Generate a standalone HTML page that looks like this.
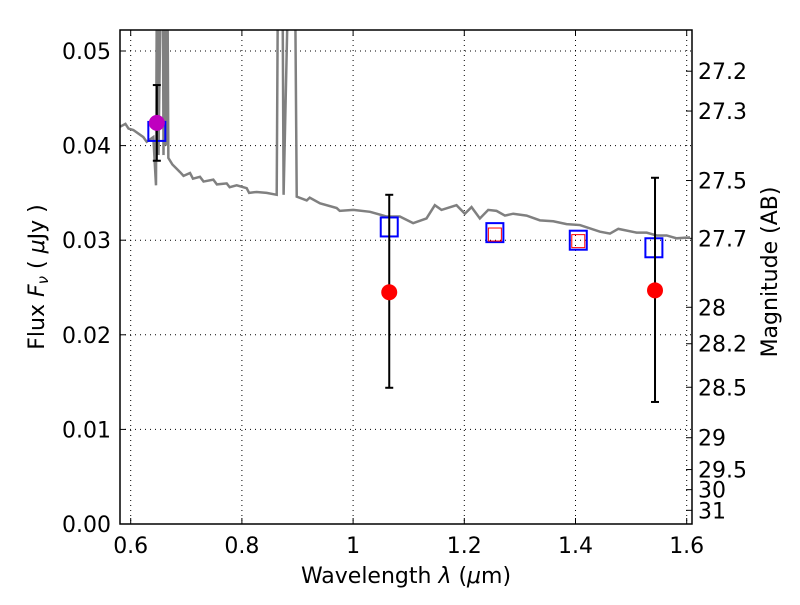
<!DOCTYPE html>
<html><head><meta charset="utf-8"><style>
body{margin:0;background:#fff;}
svg text{font-family:"DejaVu Sans","Liberation Sans",sans-serif;fill:#000;}
</style></head><body>
<svg id="chart" width="800" height="600" xmlns="http://www.w3.org/2000/svg"></svg>
<script>
const specWave=[0.581,0.5905,0.596,0.6047,0.6227,0.6288,0.6407,0.6455,0.648,0.650,0.657,0.659,0.661,0.663,0.665,0.6677,0.675,0.6887,0.695,0.7067,0.712,0.7246,0.731,0.7486,0.755,0.7727,0.778,0.7906,0.8086,0.813,0.8266,0.8446,0.8626,0.866,0.872,0.875,0.888,0.894,0.8986,0.9166,0.922,0.9405,0.9705,0.976,1.0004,1.0304,1.0604,1.084,1.108,1.132,1.147,1.159,1.186,1.201,1.213,1.228,1.243,1.258,1.273,1.288,1.312,1.336,1.360,1.384,1.408,1.444,1.462,1.477,1.510,1.528,1.546,1.564,1.582,1.606];
const specFlux=[0.0420,0.0423,0.0418,0.04165,0.0409,0.0404,0.0409,0.0358,0.07,0.039,0.07,0.039,0.07,0.040,0.07,0.0387,0.0380,0.0372,0.0368,0.0371,0.0365,0.0367,0.0362,0.0364,0.0359,0.0360,0.0356,0.0358,0.0355,0.0350,0.0351,0.0350,0.0348,0.07,0.07,0.0348,0.07,0.07,0.0346,0.0342,0.0345,0.0339,0.0334,0.0331,0.0332,0.0330,0.0325,0.0325,0.0318,0.0323,0.0337,0.0332,0.0337,0.0328,0.0335,0.0323,0.0332,0.0331,0.0326,0.0328,0.0326,0.0321,0.0320,0.0317,0.0316,0.0309,0.0307,0.0312,0.0308,0.0308,0.0305,0.0305,0.0302,0.0303];
const obsWave=[0.647,1.065,1.543];
const obsFlux=[0.0424,0.0245,0.0247];
const obsLo=[0.0384,0.0144,0.0129];
const obsHi=[0.0464,0.0348,0.0366];
const obsColor=['#bf00bf','red','red'];
const modWave=[0.647,1.065,1.255,1.405,1.541];
const modFlux=[0.0415,0.0314,0.0308,0.0300,0.0292];
const filtWave=[1.255,1.405];
const filtFlux=[0.0306,0.0299];
const xTicks=[0.6,0.8,1.0,1.2,1.4,1.6];
const xTickLabels=['0.6','0.8','1','1.2','1.4','1.6'];
const yTicks=[0,0.01,0.02,0.03,0.04,0.05];
const yTickLabels=['0.00','0.01','0.02','0.03','0.04','0.05'];
const magTicks=[27.2,27.3,27.5,27.7,28,28.2,28.5,29,29.5,30,31];

const L=120,R=692,T=30,B=524;
const X=w=>130.7+(w-0.6)*556;
const Y=f=>524-f*9460;
const svg=document.getElementById('chart');
const NS='http://www.w3.org/2000/svg';
function mk(tag,attrs,parent){const e=document.createElementNS(NS,tag);for(const k in attrs)e.setAttribute(k,attrs[k]);(parent||svg).appendChild(e);return e;}

const defs=mk('defs',{});
const cp=mk('clipPath',{id:'clip'},defs);
mk('rect',{x:L,y:T,width:R-L,height:B-T},cp);

xTicks.forEach((t,i)=>{
  const g=mk('line',{x1:X(t),x2:X(t),y1:T,y2:B,stroke:'#000','stroke-width':1,'stroke-dasharray':'1,4'});
  
  
  mk('line',{x1:X(t),x2:X(t),y1:B,y2:B-6,stroke:'#000'});
  mk('line',{x1:X(t),x2:X(t),y1:T,y2:T+6,stroke:'#000'});
  const tx=mk('text',{x:X(t),y:B+29,'font-size':22,'text-anchor':'middle'});
  tx.textContent=xTickLabels[i];
  
  
});
yTicks.forEach((t,i)=>{
  const g=mk('line',{x1:L,x2:R,y1:Y(t),y2:Y(t),stroke:'#000','stroke-width':1,'stroke-dasharray':'1,4'});
  
  
  mk('line',{x1:L,x2:L+6,y1:Y(t),y2:Y(t),stroke:'#000'});
  const tx=mk('text',{x:L-9,y:Y(t)+8,'font-size':22,'text-anchor':'end'});
  tx.textContent=yTickLabels[i];
  
  
});
magTicks.forEach(m=>{
  const f=Math.pow(10,(23.9-m)/2.5);
  mk('line',{x1:R,x2:R-6,y1:Y(f),y2:Y(f),stroke:'#000'});
  const tx=mk('text',{x:R+6,y:Y(f)+8,'font-size':22});
  tx.textContent=String(m);
  
  
});

const g=mk('g',{'clip-path':'url(#clip)'});
const sp=mk('polyline',{points:specWave.map((w,i)=>X(w)+','+Y(specFlux[i])).join(' '),fill:'none',stroke:'#808080','stroke-width':2.5},g);



modWave.forEach((w,i)=>{
  const r=mk('rect',{x:X(w)-8.5,y:Y(modFlux[i])-9.5,width:17,height:19,fill:'none',stroke:'blue','stroke-width':2},g);
  
  
});
filtWave.forEach((w,i)=>{
  const r=mk('rect',{x:X(w)-6.5,y:Y(filtFlux[i])-6.5,width:13,height:13,fill:'none',stroke:'red','stroke-width':1},g);
  
  
});
obsWave.forEach((w,i)=>{
  const x=X(w);
  const e=mk('line',{x1:x,x2:x,y1:Y(obsLo[i]),y2:Y(obsHi[i]),stroke:'#000','stroke-width':2},g);
  
  
  mk('line',{x1:x-4,x2:x+4,y1:Y(obsLo[i]),y2:Y(obsLo[i]),stroke:'#000','stroke-width':2},g);
  mk('line',{x1:x-4,x2:x+4,y1:Y(obsHi[i]),y2:Y(obsHi[i]),stroke:'#000','stroke-width':2},g);
  const c=mk('circle',{cx:x,cy:Y(obsFlux[i]),r:8,fill:obsColor[i]},g);
  
  
});

const fr=mk('rect',{x:L,y:T,width:R-L,height:B-T,fill:'none',stroke:'#000','stroke-width':1.5});


</script>
<svg style="position:absolute;left:0;top:0" width="800" height="600" xmlns="http://www.w3.org/2000/svg">
<text x="406" y="583" font-size="22" text-anchor="middle">Wavelength  <tspan font-style="italic">λ</tspan> (<tspan font-style="italic">μ</tspan>m)</text>
<text transform="translate(44,277) rotate(-90)" font-size="22" text-anchor="middle">Flux  <tspan font-style="italic">F</tspan><tspan font-style="italic" font-size="15" dy="4">ν</tspan><tspan dy="-4">  ( </tspan><tspan font-style="italic">μ</tspan>Jy )</text>
<text transform="translate(777,272) rotate(-90)" font-size="22" text-anchor="middle">Magnitude (AB)</text>
</svg>
</body></html>
